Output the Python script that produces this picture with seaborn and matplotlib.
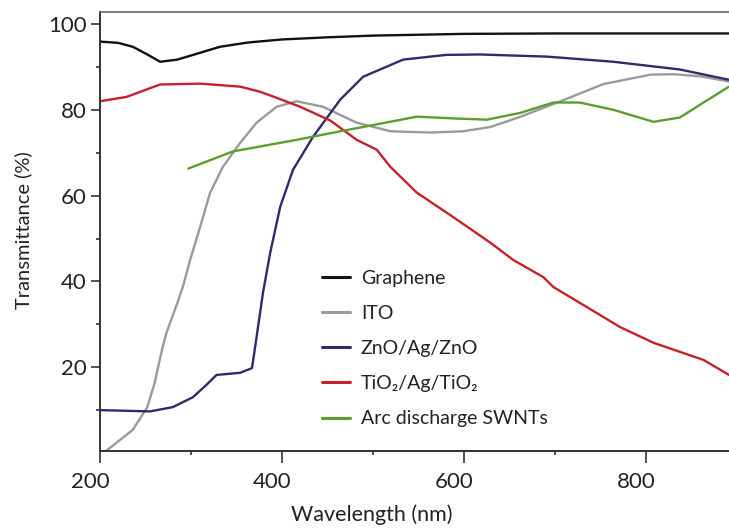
import numpy as np
import pandas as pd
import matplotlib
matplotlib.use("Agg")
import matplotlib.pyplot as plt
import matplotlib.transforms as mtransforms
from matplotlib.ticker import MultipleLocator
import seaborn as sns

# ---- data ----
graphene_x = [200, 220, 236, 252, 266, 285, 310, 332, 363, 400, 450, 500, 600, 700, 800, 891]
graphene_y = [95.9, 95.6, 94.7, 92.9, 91.2, 91.7, 93.3, 94.7, 95.7, 96.4, 96.9, 97.3, 97.7, 97.8, 97.8, 97.8]

ito_x = [207, 211, 236, 252, 260, 268, 273, 285, 291, 299, 310, 321, 335, 354, 372, 394, 416, 445,
         482, 519, 563, 599, 629, 662, 706, 753, 805, 830, 860, 891]
ito_y = [0.6, 1.2, 5.4, 10.7, 16.3, 24.0, 28.0, 35.0, 38.7, 45.0, 52.7, 60.7, 66.7, 72.3, 77.0, 80.7, 82.0, 80.7,
         77.0, 75.0, 74.7, 75.0, 76.0, 78.4, 82.0, 86.0, 88.2, 88.3, 87.8, 86.6]

zno_x = [200, 255, 280, 302, 317, 328, 354, 367, 372, 379, 387, 398, 412, 434, 464,
         489, 533, 580, 617, 691, 764, 837, 891]
zno_y = [10.0, 9.7, 10.7, 13.0, 15.9, 18.2, 18.7, 19.8, 27.0, 37.3, 46.7, 57.4, 66.0, 73.7, 82.4,
         87.7, 91.7, 92.8, 92.9, 92.4, 91.2, 89.4, 87.0]

tio2_x = [200, 229, 266, 310, 354, 376, 394, 420, 453, 464, 482, 504, 519, 548, 588, 629, 654,
          687, 698, 709, 735, 771, 808, 863, 891]
tio2_y = [82.0, 83.0, 85.9, 86.1, 85.4, 84.2, 82.8, 80.7, 77.5, 75.8, 73.0, 70.7, 66.7, 60.7, 55.0, 49.0, 45.0,
          41.0, 38.7, 37.3, 34.0, 29.4, 25.7, 21.7, 18.2]

swnt_x = [297, 346, 416, 464, 489, 548, 588, 625, 662, 698, 727, 764, 808, 837, 863, 891]
swnt_y = [66.3, 70.3, 73.0, 75.0, 76.0, 78.4, 78.0, 77.7, 79.3, 81.7, 81.7, 80.0, 77.2, 78.2, 81.7, 85.4]

series_names = ["Graphene", "ITO", "ZnO/Ag/ZnO", "TiO\u2082/Ag/TiO\u2082", "Arc discharge SWNTs"]
series_colors = ["#111111", "#9a9a9a", "#2c2c6c", "#c8202a", "#5a9e2e"]
x_ticks = [200, 400, 600, 800]
y_ticks = [20, 40, 60, 80, 100]

frames = []
for name, xs, ys in zip(series_names,
                        [graphene_x, ito_x, zno_x, tio2_x, swnt_x],
                        [graphene_y, ito_y, zno_y, tio2_y, swnt_y]):
    frames.append(pd.DataFrame({"Wavelength": xs, "Transmittance": ys, "Material": name}))
df = pd.concat(frames, ignore_index=True)

sns.set_theme(style="ticks")
plt.rcParams["font.family"] = ["Lato", "DejaVu Sans"]

fig = plt.figure(figsize=(7.29, 5.30), dpi=100)
ax = fig.add_axes([100 / 729, 1 - 450.7 / 530, 629 / 729, (450.7 - 12) / 530])

sns.lineplot(data=df, x="Wavelength", y="Transmittance", hue="Material",
             hue_order=series_names, palette=series_colors, estimator=None,
             linewidth=1.7, ax=ax)

ax.set_xlim(200, 891)
ax.set_ylim(0.54, 102.8)
ax.set_xticks(x_ticks)
ax.set_yticks(y_ticks)
ax.xaxis.set_minor_locator(MultipleLocator(100))
ax.yaxis.set_minor_locator(MultipleLocator(10))

text_color = "#222222"
ax.tick_params(axis="y", which="major", length=6.5, width=1.2, color="#333333",
               labelsize=16, labelcolor=text_color, pad=3)
ax.tick_params(axis="y", which="minor", length=3, width=1.2, color="#333333")
ax.tick_params(axis="x", which="major", length=8.5, width=1.2, color="#333333",
               labelsize=16, labelcolor=text_color, pad=7)
ax.tick_params(axis="x", which="minor", length=3, width=1.2, color="#333333")

offset = mtransforms.ScaledTranslation(-10 / 100, 0, fig.dpi_scale_trans)
for lab in ax.get_xticklabels():
    lab.set_transform(lab.get_transform() + offset)

for side in ["left", "bottom"]:
    ax.spines[side].set_color("#333333")
    ax.spines[side].set_linewidth(1.4)
ax.spines["top"].set_color("#666666")
ax.spines["top"].set_linewidth(1.2)
ax.spines["right"].set_visible(False)

ax.set_xlabel("Wavelength (nm)", fontsize=15.5, color=text_color)
ax.set_ylabel("Transmittance (%)", fontsize=14.5, color=text_color)
ax.xaxis.set_label_coords((372 - 100) / 629, (450.7 - 515) / 438.7)
ax.yaxis.set_label_coords((23 - 100) / 629, (450.7 - 230) / 438.7)
ax.xaxis.label.set_va("center")
ax.yaxis.label.set_va("center")

leg = ax.legend(loc="upper left", bbox_to_anchor=((322 - 100) / 629, (450.7 - 270) / 438.7),
                frameon=False, fontsize=14, handlelength=1.45, handletextpad=0.55,
                labelspacing=0.93, borderpad=0, borderaxespad=0)
for t in leg.get_texts():
    t.set_color(text_color)
for line in leg.get_lines():
    line.set_linewidth(2.2)

fig.savefig("out.png", dpi=100)
